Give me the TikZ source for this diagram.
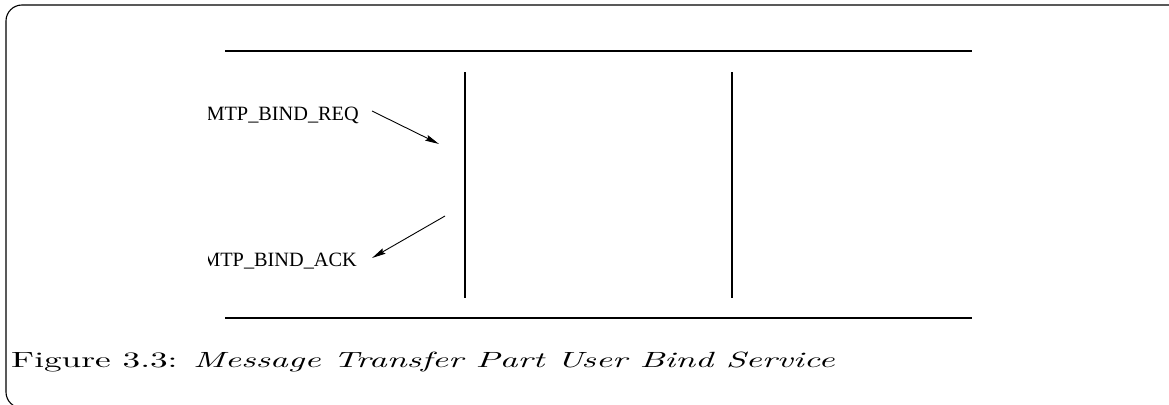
\documentclass[tikz,border=0pt]{standalone}
\usepackage{fontspec}
\newfontfamily\timesf{Liberation Serif}
\usetikzlibrary{arrows.meta}
\begin{document}
\begin{tikzpicture}[x=1pt,y=-1pt,
  ruleline/.style={line width=1.1pt},
  framebox/.style={line width=1.1pt,rounded corners=16pt},
  msg/.style={line width=0.9pt,-{Stealth[length=14pt,width=6pt,inset=2pt]}},
  lbl/.style={font=\timesf\fontsize{20.3}{24}\selectfont,inner sep=0pt},
  captext/.style={inner sep=0pt}]
\useasboundingbox (0,0) rectangle (1169,404);
% frame
\draw[framebox] (1250,5) -- (6,5) -- (6,408) -- (1250,408);
% rules
\coordinate (t1) at (225,51); \coordinate (t2) at (972,51);
\coordinate (b1) at (225,318); \coordinate (b2) at (972,318);
\draw[ruleline] (t1) -- (t2);
\draw[ruleline] (b1) -- (b2);
\coordinate (v1a) at (465,72); \coordinate (v1b) at (465,298);
\coordinate (v2a) at (732,72); \coordinate (v2b) at (732,298);
\draw[ruleline] (v1a) -- (v1b);
\draw[ruleline] (v2a) -- (v2b);
% messages
\begin{scope}
\clip (208,0) rectangle (1169,404);
\node[lbl,anchor=base east] (req) at (359,120) {MTP\_BIND\_REQ};
\node[lbl,anchor=base east] (ack) at (357,266) {MTP\_BIND\_ACK};
\end{scope}
\coordinate (reqs) at (372,111); \coordinate (reqe) at (439,144);
\coordinate (acks) at (445,216); \coordinate (acke) at (372,258);
\draw[msg] (reqs) -- (reqe);
\draw[msg] (acks) -- (acke);
% caption
\node[captext,anchor=base west] (caption) at (11,367) {\scalebox{3.53}[2.2]{Figure 3.3: \textit{Message Transfer Part User Bind Service}}};
\end{tikzpicture}
\end{document}
